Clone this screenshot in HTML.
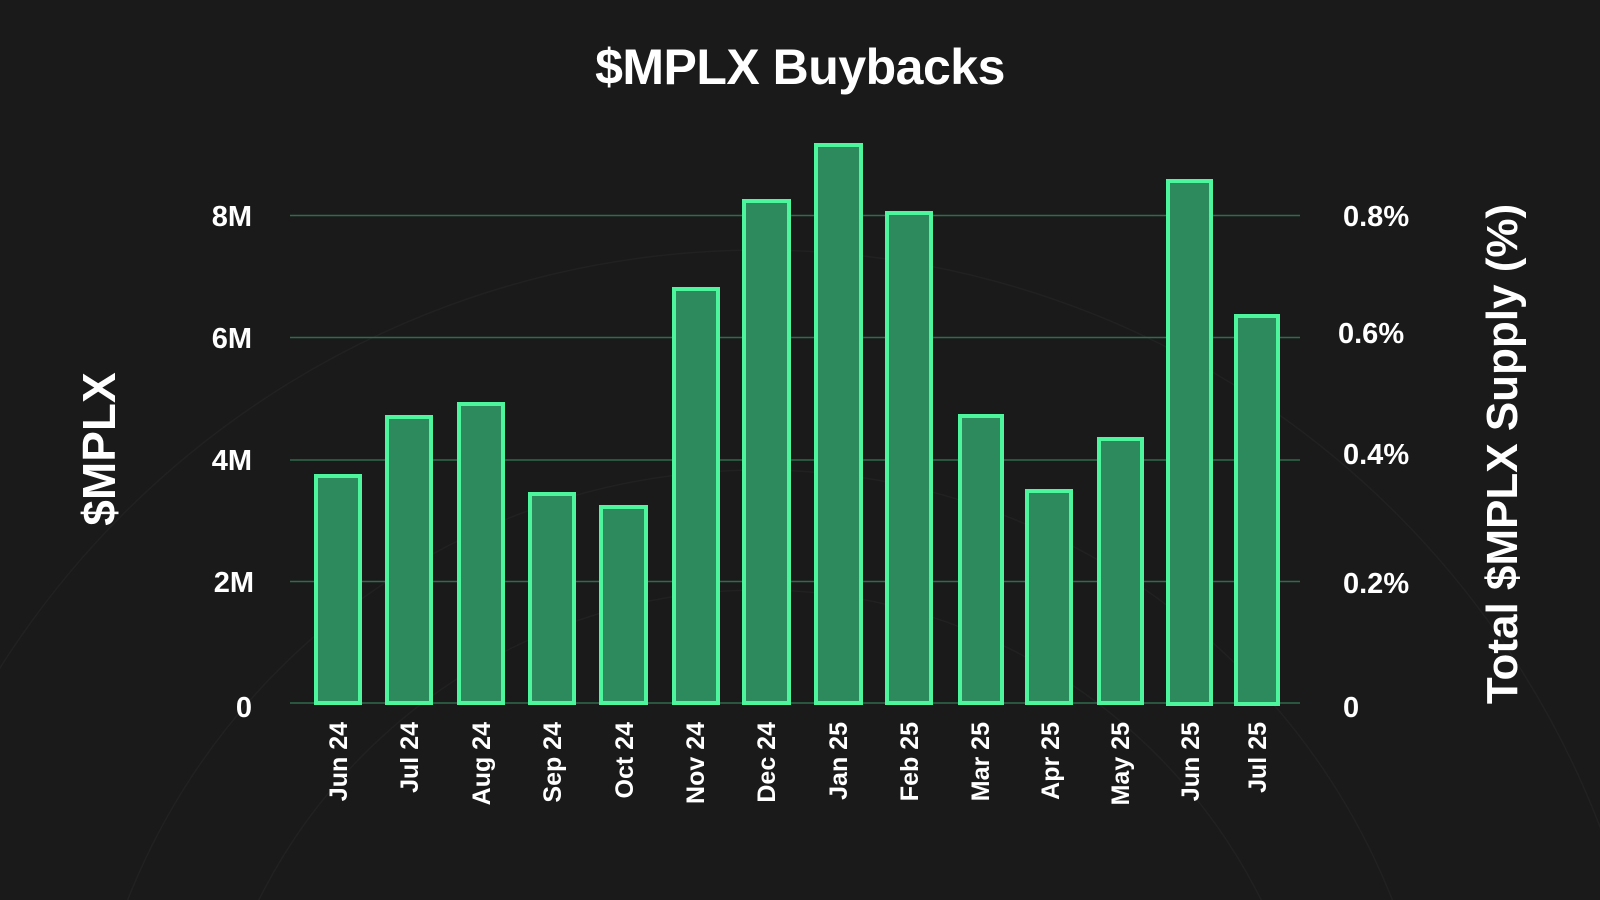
<!DOCTYPE html>
<html><head><meta charset="utf-8"><style>
html,body{margin:0;padding:0;background:#1a1a1a;width:1600px;height:900px;overflow:hidden;}
svg{display:block;}
text{font-family:"Liberation Sans",Arial,sans-serif;font-weight:bold;fill:#fff;}
</style></head><body>
<svg width="1600" height="900" viewBox="0 0 1600 900" xmlns="http://www.w3.org/2000/svg">
<rect width="1600" height="900" fill="#1a1a1a"/>
<g fill="none" stroke="#212121" stroke-width="1.5">
<circle cx="760" cy="1150" r="900"/>
<circle cx="760" cy="1150" r="680"/>
<circle cx="760" cy="1150" r="560"/>
</g>
<text x="800" y="84" font-size="50" text-anchor="middle" letter-spacing="-0.5">$MPLX Buybacks</text>
<g stroke="#2f6b4d" stroke-width="1.5">
<line x1="290" x2="1300" y1="215.5" y2="215.5"/>
<line x1="290" x2="1300" y1="337.5" y2="337.5"/>
<line x1="290" x2="1300" y1="460" y2="460"/>
<line x1="290" x2="1300" y1="581.5" y2="581.5"/>
<line x1="290" x2="1300" y1="703" y2="703"/>
</g>
<g font-size="29" text-anchor="end">
<text x="252" y="226">8M</text>
<text x="252" y="348">6M</text>
<text x="252" y="470">4M</text>
<text x="254" y="592">2M</text>
<text x="252" y="717">0</text>
</g>
<g font-size="29">
<text x="1343" y="226">0.8%</text>
<text x="1338" y="343">0.6%</text>
<text x="1343" y="464">0.4%</text>
<text x="1343" y="593">0.2%</text>
<text x="1343" y="717">0</text>
</g>
<text transform="translate(115,449) rotate(-90)" font-size="46" text-anchor="middle">$MPLX</text>
<text transform="translate(1517,454) rotate(-90)" font-size="44" text-anchor="middle">Total $MPLX Supply (%)</text>
<g fill="#2d8a5d" stroke="#4df59d" stroke-width="4">
<rect x="316" y="476" width="44" height="227"/>
<rect x="387" y="417" width="44" height="286"/>
<rect x="459" y="404" width="44" height="299"/>
<rect x="530" y="494" width="44" height="209"/>
<rect x="601" y="507" width="45" height="196"/>
<rect x="674" y="289" width="44" height="414"/>
<rect x="744" y="201" width="45" height="502"/>
<rect x="816" y="145" width="45" height="558"/>
<rect x="887" y="213" width="44" height="490"/>
<rect x="960" y="416" width="42" height="287"/>
<rect x="1027" y="491" width="44" height="212"/>
<rect x="1099" y="439" width="43" height="264"/>
<rect x="1168" y="181" width="43" height="523"/>
<rect x="1236" y="316" width="42" height="388"/>
</g>
<g font-size="25" text-anchor="end">
<text transform="translate(347,722) rotate(-90)">Jun 24</text>
<text transform="translate(418,722) rotate(-90)">Jul 24</text>
<text transform="translate(490,722) rotate(-90)">Aug 24</text>
<text transform="translate(561,722) rotate(-90)">Sep 24</text>
<text transform="translate(633,722) rotate(-90)">Oct 24</text>
<text transform="translate(704,722) rotate(-90)">Nov 24</text>
<text transform="translate(775,722) rotate(-90)">Dec 24</text>
<text transform="translate(847,722) rotate(-90)">Jan 25</text>
<text transform="translate(918,722) rotate(-90)">Feb 25</text>
<text transform="translate(989,722) rotate(-90)">Mar 25</text>
<text transform="translate(1059,722) rotate(-90)">Apr 25</text>
<text transform="translate(1129,722) rotate(-90)">May 25</text>
<text transform="translate(1199,722) rotate(-90)">Jun 25</text>
<text transform="translate(1266,722) rotate(-90)">Jul 25</text>
</g>
</svg>
</body></html>
